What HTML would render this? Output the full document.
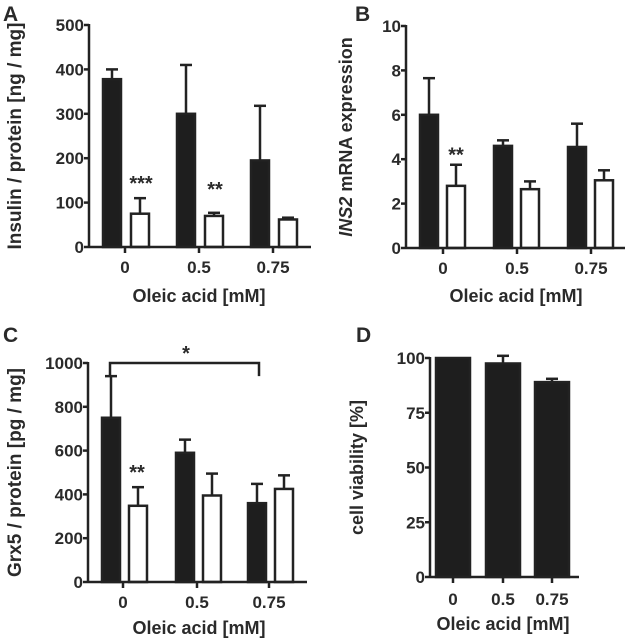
<!DOCTYPE html>
<html><head><meta charset="utf-8"><style>
body{margin:0;background:#fff;}
svg{display:block;font-family:"Liberation Sans",Arial,sans-serif;}
text{font-weight:bold;fill:#2a2a2a;}
</style></head><body>
<svg id="fig" width="633" height="641" viewBox="0 0 633 641" xmlns="http://www.w3.org/2000/svg"></svg>
<script>
// Panel A
const catsA = ["0","0.5","0.75"];
const blackA = [378, 300, 195];
const blackErrA = [22, 110, 123];
const whiteA = [75, 70, 62];
const whiteErrA = [35, 7, 4];
const ticksA = [0,100,200,300,400,500];
// Panel B
const blackB = [6.0, 4.6, 4.55];
const blackErrB = [1.65, 0.25, 1.05];
const whiteB = [2.8, 2.65, 3.05];
const whiteErrB = [0.95, 0.35, 0.45];
const ticksB = [0,2,4,6,8,10];
// Panel C
const blackC = [750, 590, 360];
const blackErrC = [190, 60, 88];
const whiteC = [348, 395, 425];
const whiteErrC = [85, 100, 62];
const ticksC = [0,200,400,600,800,1000];
// Panel D
const valuesD = [100, 97.5, 89];
const errD = [0, 3.5, 1.5];
const ticksD = [0,25,50,75,100];

const NS="http://www.w3.org/2000/svg";
const svg=document.getElementById('fig');
function mk(tag,attrs,parent){const e=document.createElementNS(NS,tag);for(const k in attrs)e.setAttribute(k,attrs[k]);(parent||svg).appendChild(e);return e;}

function panel(cfg){
  const g=mk('g',{});
  
  
  const y=v=>cfg.y0-(v/cfg.max)*(cfg.y0-cfg.yTop);
  const L=mk('text',{x:cfg.lx,y:cfg.ly,'font-size':21,fill:'#000'},g);L.textContent=cfg.letter;
  
  
  cfg.series.forEach(s=>{
    s.vals.forEach((v,i)=>{
      const cx=cfg.ticks[i]+s.off;
      const top=y(v);
      if(s.err[i]>0){
        const et=y(v+s.err[i]);
        const l=mk('line',{x1:cx,x2:cx,y1:top,y2:et,stroke:'#222','stroke-width':2.5},g);
        
        
        const c=mk('line',{x1:cx-6,x2:cx+6,y1:et,y2:et,stroke:'#222','stroke-width':2.5},g);
        
        
      }
      const r=mk('rect',{x:cx-s.w/2+1,y:top,width:s.w-2,height:cfg.y0-top,fill:s.fill,stroke:'#222','stroke-width':2.5},g);
      
      
    });
  });
  const ya=mk('line',{x1:cfg.ax,x2:cfg.ax,y1:cfg.yTop-1,y2:cfg.y0+1,stroke:'#222','stroke-width':2.5},g);
  
  
  const xa=mk('line',{x1:cfg.ax,x2:cfg.axEnd,y1:cfg.y0,y2:cfg.y0,stroke:'#222','stroke-width':2.5},g);
  
  
  cfg.yt.forEach(t=>{
    const yy=y(t);
    mk('line',{x1:cfg.ax-5,x2:cfg.ax,y1:yy,y2:yy,stroke:'#222','stroke-width':2.5},g);
    const tx=mk('text',{x:cfg.ax-5,y:yy+6,'font-size':17,'text-anchor':'end'},g);tx.textContent=t;
    
    
  });
  catsA.forEach((c,i)=>{
    const xx=cfg.ticks[i];
    mk('line',{x1:xx,x2:xx,y1:cfg.y0,y2:cfg.y0+6,stroke:'#222','stroke-width':2.5},g);
    const tx=mk('text',{x:xx,y:cfg.tly,'font-size':17,'text-anchor':'middle'},g);tx.textContent=c;
    
    
  });
  const xl=mk('text',{x:cfg.xlx,y:cfg.xly,'font-size':18,'text-anchor':'middle'},g);xl.textContent='Oleic acid [mM]';
  
  
  const yl=mk('text',{x:0,y:0,'font-size':cfg.ylfs||18,'text-anchor':'middle',transform:`translate(${cfg.ylx},${(cfg.y0+cfg.yTop)/2}) rotate(-90)`},g);
  if(cfg.ylIt){const a=mk('tspan',{'font-style':'italic'},yl);a.textContent=cfg.ylIt;const b=mk('tspan',{},yl);b.textContent=cfg.yl;}
  else yl.textContent=cfg.yl;
  
  
  (cfg.stars||[]).forEach(s=>{
    const t=mk('text',{x:s.x,y:y(s.v),'font-size':20,'text-anchor':'middle'},g);t.textContent=s.t;
    
    
  });
  return {g,y};
}

panel({name:'panel-a',letter:'A',lx:3,ly:21,ax:89,axEnd:311,y0:247,yTop:25,max:500,ticks:[125,199,273],
  series:[{key:'control',vals:blackA,err:blackErrA,off:-13,w:20,fill:'#1e1e1e'},{key:'treated',vals:whiteA,err:whiteErrA,off:15,w:20,fill:'#fff'}],
  yt:ticksA,tly:273,xlx:199,xly:302,ylx:21,yl:'Insulin / protein [ng / mg]',ylfs:19,
  stars:[{x:141,v:128,t:'***'},{x:215,v:115,t:'**'}]});

panel({name:'panel-b',letter:'B',lx:355,ly:21,ax:406,axEnd:625,y0:248,yTop:26,max:10,ticks:[443,517,591],
  series:[{key:'control',vals:blackB,err:blackErrB,off:-14,w:20,fill:'#1e1e1e'},{key:'treated',vals:whiteB,err:whiteErrB,off:13,w:20,fill:'#fff'}],
  yt:ticksB,tly:274,xlx:516,xly:302,ylx:352,ylIt:'INS2',yl:' mRNA expression',
  stars:[{x:456,v:3.9,t:'**'}]});

const pc=panel({name:'panel-c',letter:'C',lx:3,ly:342,ax:88,axEnd:307,y0:582,yTop:363,max:1000,ticks:[123,197,269],
  series:[{key:'control',vals:blackC,err:blackErrC,off:-12,w:20,fill:'#1e1e1e'},{key:'treated',vals:whiteC,err:whiteErrC,off:15,w:20,fill:'#fff'}],
  yt:ticksC,tly:608,xlx:199,xly:634,ylx:21,yl:'Grx5 / protein [pg / mg]',ylfs:19,
  stars:[{x:137,v:470,t:'**'}]});
const br=mk('path',{d:`M110 ${pc.y(940)} V${pc.y(1000)} H259 V${pc.y(940)}`,fill:'none',stroke:'#222','stroke-width':2.5},pc.g);


const bs=mk('text',{x:186,y:pc.y(1000)-3,'font-size':20,'text-anchor':'middle'},pc.g);bs.textContent='*';



panel({name:'panel-d',letter:'D',lx:356,ly:342,ax:430,axEnd:579,y0:577,yTop:358,max:100,ticks:[453,503,552],
  series:[{key:'viability',vals:valuesD,err:errD,off:0,w:36,fill:'#1e1e1e'}],
  yt:ticksD,tly:605,xlx:503,xly:630,ylx:363,yl:'cell viability [%]'});
</script>
</body></html>
